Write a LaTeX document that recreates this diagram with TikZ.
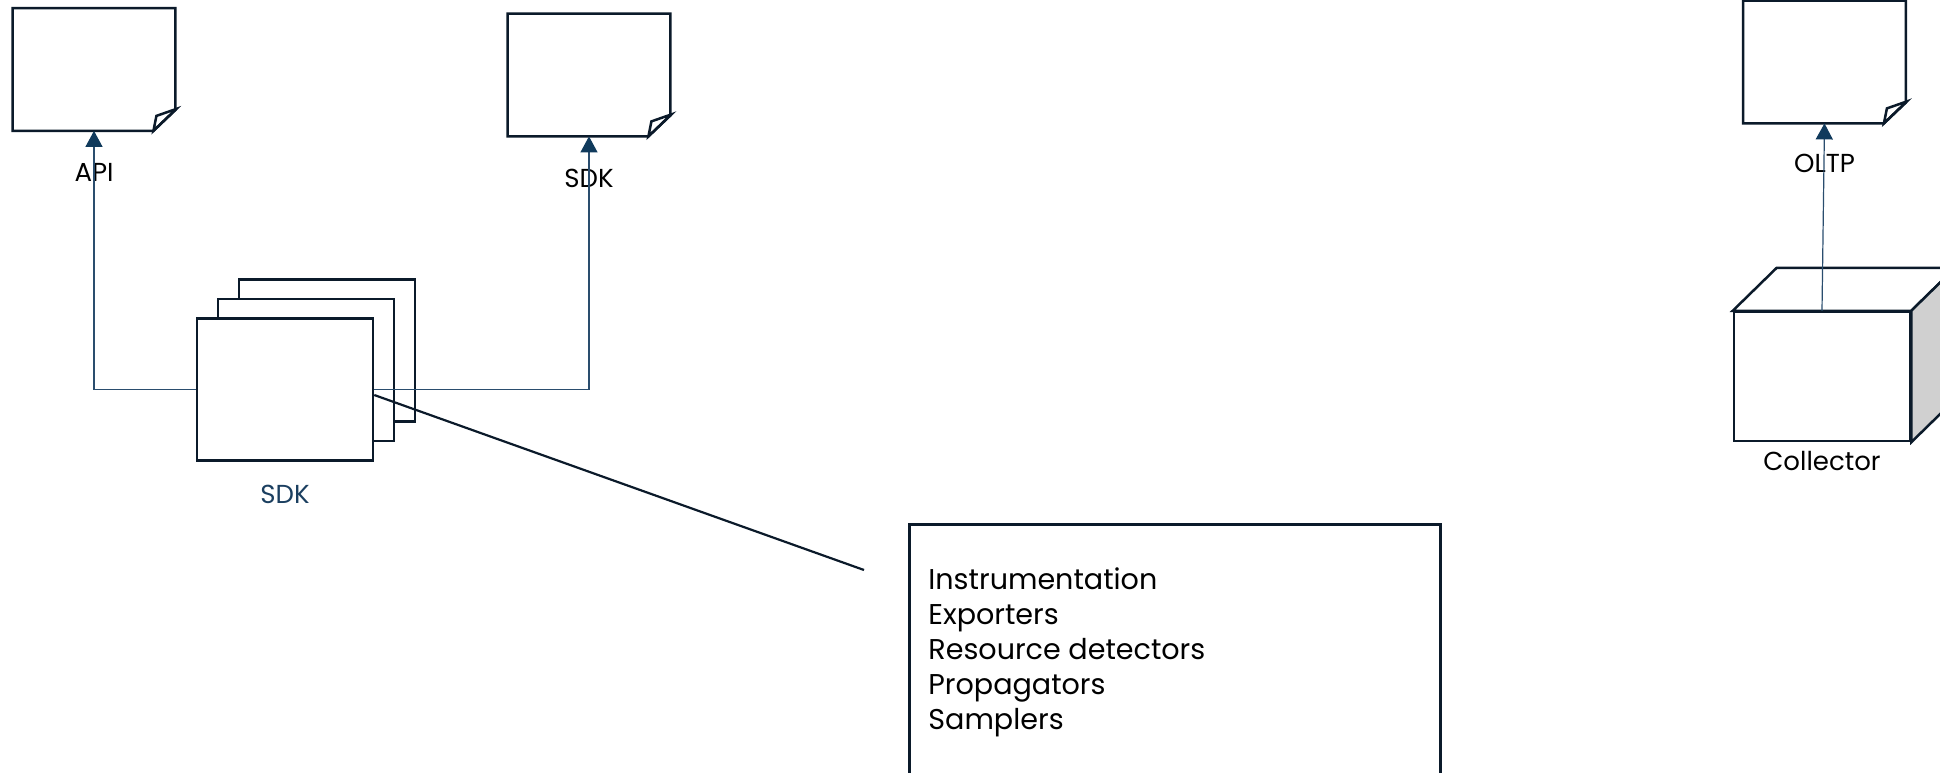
\documentclass[tikz,border=0pt]{standalone}
\usepackage{fontspec}
\setmainfont{Poppins}
\usepackage{xcolor}
\usetikzlibrary{arrows.meta, positioning, shadows}

\definecolor{ink}{HTML}{0B1A2A}
\definecolor{linkblue}{HTML}{2A4D6E}
\definecolor{tipblue}{HTML}{103A5C}
\definecolor{sdkblue}{HTML}{1B3F60}
\definecolor{sidegrey}{HTML}{D0D0D0}

\begin{document}
\begin{tikzpicture}[
  x=0.5pt, y=-0.5pt,
  >={Triangle[length=8pt, width=8.5pt, color=tipblue]},
  outline/.style={draw=ink, line width=1.25pt, line join=miter},
  note/.style={minimum width=81pt, minimum height=61pt, inner sep=0pt},
  lbl/.style={inner sep=0pt, font=\fontsize{13}{16}\selectfont},
  link/.style={draw=linkblue, line width=0.6pt},
  layer/.style={copy shadow={shadow xshift=#1, shadow yshift=#1*0.93, draw=ink, line width=1.25pt}}
]
\useasboundingbox (0,0) rectangle (1940,772);
\clip (0,0) rectangle (1940,772);

% notes
\node[note] (api) at (94,69.5) {};
\node[note] (sdkdoc) at (589,75) {};
\node[note] (oltp) at (1824.5,62) {};
\foreach \n in {api, sdkdoc, oltp} {
  \draw[outline, fill=white] (\n.north west) -- (\n.north east) -- ([shift={(0,-21)}]\n.south east)
    -- ([shift={(-22,0)}]\n.south east) -- (\n.south west) -- cycle;
  \draw[outline] ([shift={(-22,0)}]\n.south east) -- ([shift={(-19,-15)}]\n.south east)
    -- ([shift={(1,-22)}]\n.south east) -- cycle;
}
\node[lbl, below=16pt of api] (apilbl) {API};
\node[lbl, below=16pt of sdkdoc] (sdkdoclbl) {SDK};
\node[lbl, below=15pt of oltp] (oltplbl) {OLTP};

% sdk stack
\node[outline, fill=white, minimum width=88pt, minimum height=71pt, inner sep=0pt,
  layer=21pt, layer=10.5pt] (sdk) at (285,389.5) {};
\node[lbl, text=sdkblue, below=11.5pt of sdk] (sdklbl) {SDK};

% collector cube
\node[outline, fill=white, minimum width=88pt, minimum height=64.5pt, inner sep=0pt] (collector) at (1822,376.5) {};
\draw[outline, fill=white] (collector.north west) -- ([shift={(44,-43)}]collector.north west)
  -- ([shift={(44,-43)}]collector.north east) -- (collector.north east) -- cycle;
\draw[outline, fill=sidegrey] (collector.north east) -- ([shift={(44,-43)}]collector.north east)
  -- ([shift={(44,-43)}]collector.south east) -- (collector.south east) -- cycle;
\node[lbl, below=4.5pt of collector] (collectorlbl) {Collector};

% parts box
\node[outline, minimum width=265.5pt, minimum height=140pt, inner sep=0pt, anchor=north west] (partsbox) at (908,523) {};
\node[inner sep=0pt, anchor=north west, align=left, font=\fontsize{14.3}{17.5}\selectfont] (parts) at (928,567)
  {Instrumentation\\Exporters\\Resource detectors\\Propagators\\Samplers};
\coordinate (callout) at (864,570);

% connectors
\draw[link, ->] (sdk.west) -| (api.south);
\draw[link, ->] (sdk.east) -| (sdkdoc.south);
\draw[link, ->] (collector.north) -- (oltp.south);
\draw[draw=ink, line width=1.1pt] ([yshift=-2.75pt]sdk.east) -- (callout);
\end{tikzpicture}
\end{document}
